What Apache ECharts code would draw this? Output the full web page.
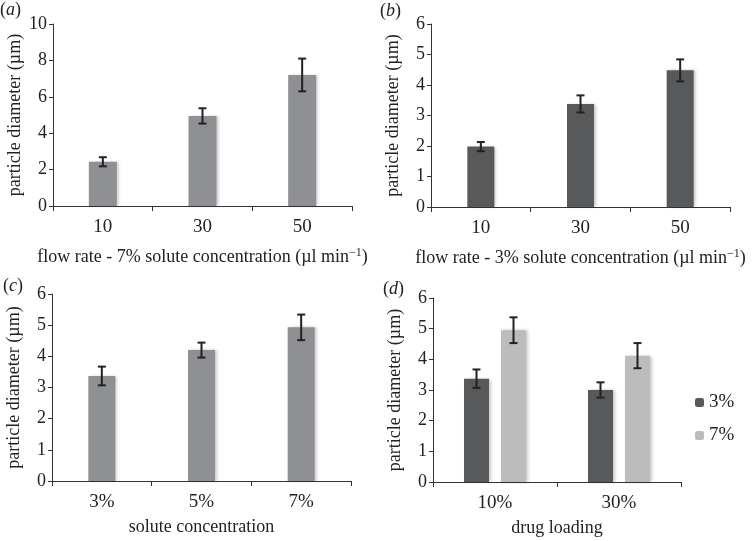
<!DOCTYPE html>
<html>
<head>
<meta charset="utf-8">
<script src="https://cdn.jsdelivr.net/npm/echarts@6/dist/echarts.min.js"></script>
<style>
  html, body { margin: 0; padding: 0; background: #fff; }
  #chart { width: 753px; height: 541px; }
</style>
</head>
<body>
<div id="chart"></div>
<script>
// (a) flow rate, 7% solute
const flowRates = ['10', '30', '50']
const aValues = [2.43, 4.95, 7.2]
const aErrors = [0.25, 0.42, 0.9]
// (b) flow rate, 3% solute
const bValues = [1.98, 3.38, 4.48]
const bErrors = [0.15, 0.28, 0.36]
// (c) solute concentration
const concentrations = ['3%', '5%', '7%']
const cValues = [3.37, 4.2, 4.93]
const cErrors = [0.3, 0.24, 0.41]
// (d) drug loading
const drugLoading = ['10%', '30%']
const d3Values = [3.37, 3.0]
const d3Errors = [0.3, 0.25]
const d7Values = [4.95, 4.12]
const d7Errors = [0.42, 0.41]

const FONT = 'Liberation Serif'
const MID = '#8f9093'
const DARK = '#58595b'
const LIGHT = '#bbbcbe'

const barShadow = {
  shadowColor: 'rgba(0,0,0,0.22)',
  shadowBlur: 3,
  shadowOffsetX: 2
}

function errRender (values, errors, offset) {
  return function (params, api) {
    const i = params.dataIndex
    const x = api.coord([i, 0])[0] + (offset || 0)
    const top = api.coord([i, values[i] + errors[i]])[1]
    const bot = api.coord([i, values[i] - errors[i]])[1]
    const cap = 4
    const style = { stroke: '#222', lineWidth: 2 }
    return {
      type: 'group',
      children: [
        { type: 'line', shape: { x1: x, y1: top, x2: x, y2: bot }, style: style },
        { type: 'line', shape: { x1: x - cap, y1: top, x2: x + cap, y2: top }, style: style },
        { type: 'line', shape: { x1: x - cap, y1: bot, x2: x + cap, y2: bot }, style: style }
      ]
    }
  }
}

function xAx (idx, cats, name, gap) {
  return {
    type: 'category', gridIndex: idx, data: cats,
    name: name, nameLocation: 'middle', nameGap: gap,
    nameTextStyle: {
      fontFamily: FONT, fontSize: 18, color: '#222',
      rich: { sup: { fontFamily: FONT, fontSize: 12, color: '#222', verticalAlign: 'top', padding: [0, 0, 9, 0] } }
    },
    axisLine: { lineStyle: { color: '#333', width: 1 } },
    axisTick: { show: true, length: 5, lineStyle: { color: '#333' } },
    axisLabel: { fontFamily: FONT, fontSize: 19, color: '#222', margin: 12 }
  }
}

function yAx (idx, max) {
  return {
    type: 'value', gridIndex: idx, min: 0, max: max, interval: max === 10 ? 2 : 1,
    name: 'particle diameter (µm)', nameLocation: 'middle', nameGap: 29,
    nameTextStyle: { fontFamily: FONT, fontSize: 18, color: '#222' },
    axisLine: { show: true, lineStyle: { color: '#333', width: 1 } },
    axisTick: { show: true, length: 4, lineStyle: { color: '#333' } },
    axisLabel: { fontFamily: FONT, fontSize: 18, color: '#222', margin: 6 },
    splitLine: { show: false }
  }
}

function panelLabel (letter, x, y) {
  return {
    type: 'text', left: x, top: y,
    style: {
      text: '({i|' + letter + '})',
      fontFamily: FONT, fontSize: 18, fill: '#222',
      rich: { i: { fontFamily: FONT, fontSize: 18, fontStyle: 'italic', color: '#222' } }
    }
  }
}

const option = {
  backgroundColor: '#fff',
  animation: false,
  grid: [
    { left: 53, top: 24, width: 299, height: 182 },
    { left: 431, top: 24, width: 299, height: 183 },
    { left: 52, top: 294, width: 299, height: 187 },
    { left: 433, top: 298, width: 248, height: 184 }
  ],
  xAxis: [
    xAx(0, flowRates, 'flow rate - 7% solute concentration (µl min{sup|−1})', 41),
    xAx(1, flowRates, 'flow rate - 3% solute concentration (µl min{sup|−1})', 41),
    xAx(2, concentrations, 'solute concentration', 37),
    xAx(3, drugLoading, 'drug loading', 37)
  ],
  yAxis: [yAx(0, 10), yAx(1, 6), yAx(2, 6), yAx(3, 6)],
  legend: {
    orient: 'vertical', left: 690, top: 388, itemWidth: 9, itemHeight: 9, itemGap: 14,
    data: ['3%', '7%'],
    textStyle: { fontFamily: FONT, fontSize: 19, color: '#222' }
  },
  graphic: [
    panelLabel('a', 0, 1),
    panelLabel('b', 380, 2),
    panelLabel('c', 3, 277),
    panelLabel('d', 383, 280)
  ],
  series: [
    { type: 'bar', xAxisIndex: 0, yAxisIndex: 0, data: aValues, barWidth: 28, itemStyle: Object.assign({ color: MID }, barShadow) },
    { type: 'custom', xAxisIndex: 0, yAxisIndex: 0, data: aValues, renderItem: errRender(aValues, aErrors), z: 5 },
    { type: 'bar', xAxisIndex: 1, yAxisIndex: 1, data: bValues, barWidth: 27, itemStyle: Object.assign({ color: DARK }, barShadow) },
    { type: 'custom', xAxisIndex: 1, yAxisIndex: 1, data: bValues, renderItem: errRender(bValues, bErrors), z: 5 },
    { type: 'bar', xAxisIndex: 2, yAxisIndex: 2, data: cValues, barWidth: 27, itemStyle: Object.assign({ color: MID }, barShadow) },
    { type: 'custom', xAxisIndex: 2, yAxisIndex: 2, data: cValues, renderItem: errRender(cValues, cErrors), z: 5 },
    { name: '3%', type: 'bar', xAxisIndex: 3, yAxisIndex: 3, data: d3Values, barWidth: 25, barGap: '48%', itemStyle: Object.assign({ color: DARK }, barShadow) },
    { name: '7%', type: 'bar', xAxisIndex: 3, yAxisIndex: 3, data: d7Values, barWidth: 25, barGap: '48%', itemStyle: Object.assign({ color: LIGHT }, barShadow) },
    { type: 'custom', xAxisIndex: 3, yAxisIndex: 3, data: d3Values, renderItem: errRender(d3Values, d3Errors, -18.5), z: 5 },
    { type: 'custom', xAxisIndex: 3, yAxisIndex: 3, data: d7Values, renderItem: errRender(d7Values, d7Errors, 18.5), z: 5 }
  ]
}

const myChart = echarts.init(document.getElementById('chart'))
myChart.setOption(option)
</script>
</body>
</html>
